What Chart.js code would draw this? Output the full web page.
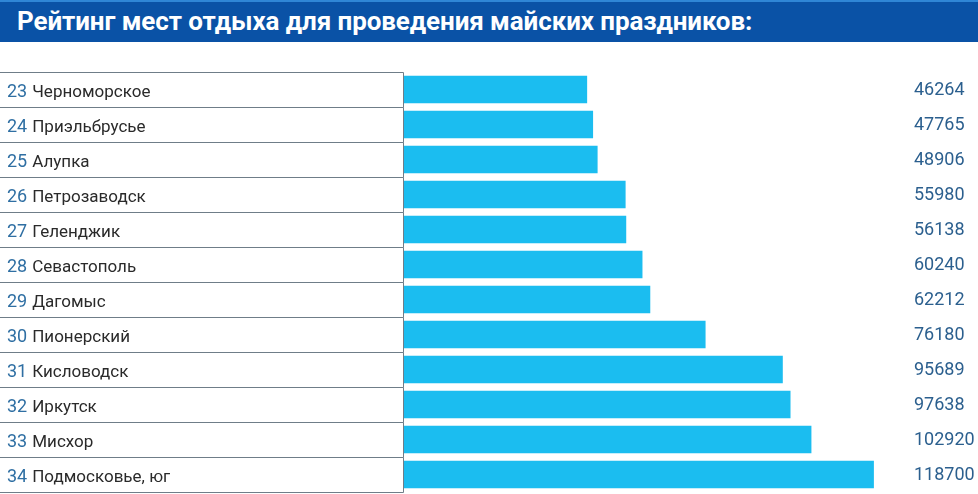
<!DOCTYPE html>
<html>
<head>
<meta charset="utf-8">
<script src="https://cdn.jsdelivr.net/npm/chart.js@4"></script>
<style>
  html, body { margin: 0; padding: 0; background: #fff; }
  #wrap { position: relative; width: 978px; height: 494px; overflow: hidden; }
  #header {
    position: absolute; left: 0; top: 0; width: 978px; height: 42px;
    background: #0a52a6; border-top: 2px solid #2f86d6; box-sizing: border-box;
    color: #fff; font: bold 26px Roboto, sans-serif; line-height: 38px;
    padding-left: 17px; letter-spacing: -0.1px;
  }
  #chart { position: absolute; left: 0; top: 0; }
</style>
</head>
<body>
<div id="wrap">
  <canvas id="chart" width="978" height="494"></canvas>
  <div id="header">Рейтинг мест отдыха для проведения майских праздников:</div>
</div>
<script>
// ============================================
// DATA
// ============================================
const ranks = [23, 24, 25, 26, 27, 28, 29, 30, 31, 32, 33, 34];
const places = ['Черноморское', 'Приэльбрусье', 'Алупка', 'Петрозаводск', 'Геленджик',
    'Севастополь', 'Дагомыс', 'Пионерский', 'Кисловодск', 'Иркутск', 'Мисхор', 'Подмосковье, юг'];
const values = [46264, 47765, 48906, 55980, 56138, 60240, 62212, 76180, 95689, 97638, 102920, 118700];

// ============================================
// TABLE + VALUE LABELS PLUGIN
// ============================================
const tablePlugin = {
    id: 'tablePlugin',
    afterDraw(chart) {
        const ctx = chart.ctx;
        const yScale = chart.scales.y;
        const rowH = yScale.getPixelForValue(1) - yScale.getPixelForValue(0);
        ctx.save();
        places.forEach((name, i) => {
            const cy = yScale.getPixelForValue(i);
            const top = Math.round(cy - rowH / 2) + 0.5;
            // row box
            ctx.strokeStyle = '#6f7d88';
            ctx.lineWidth = 1;
            ctx.beginPath();
            ctx.moveTo(0, top);
            ctx.lineTo(403.5, top);
            ctx.lineTo(403.5, top + rowH);
            ctx.stroke();
            // label: rank number + place name
            ctx.textBaseline = 'middle';
            ctx.textAlign = 'left';
            const num = String(ranks[i]);
            ctx.font = '18px Roboto, sans-serif';
            ctx.fillStyle = '#2f6fa3';
            ctx.fillText(num, 7, cy + 3);
            const w = ctx.measureText(num).width;
            ctx.font = '17px Roboto, sans-serif';
            ctx.fillStyle = '#2a2a2a';
            ctx.fillText(name, 7 + w + 5, cy + 3);
            // value
            ctx.font = '18px Roboto, sans-serif';
            ctx.fillStyle = '#2b5f8e';
            ctx.fillText(String(values[i]), 914, cy + 1);
        });
        // bottom line
        const lastBottom = Math.round(yScale.getPixelForValue(places.length - 1) + rowH / 2) + 0.5;
        ctx.strokeStyle = '#6f7d88';
        ctx.beginPath();
        ctx.moveTo(0, lastBottom);
        ctx.lineTo(403.5, lastBottom);
        ctx.stroke();
        ctx.restore();
    }
};

// ============================================
// CHART
// ============================================
const ctx = document.getElementById('chart').getContext('2d');
new Chart(ctx, {
    type: 'bar',
    data: {
        labels: places,
        datasets: [{
            data: values,
            backgroundColor: '#1bbdf0',
            borderWidth: 0,
            barPercentage: 1,
            categoryPercentage: 0.79
        }]
    },
    options: {
        indexAxis: 'y',
        responsive: false,
        animation: false,
        layout: {
            padding: { left: 404, top: 72, bottom: 2, right: 0 }
        },
        scales: {
            x: { display: false, min: 0, max: 145000 },
            y: { display: false }
        },
        plugins: {
            legend: { display: false },
            tooltip: { enabled: false }
        }
    },
    plugins: [tablePlugin]
});
</script>
</body>
</html>
